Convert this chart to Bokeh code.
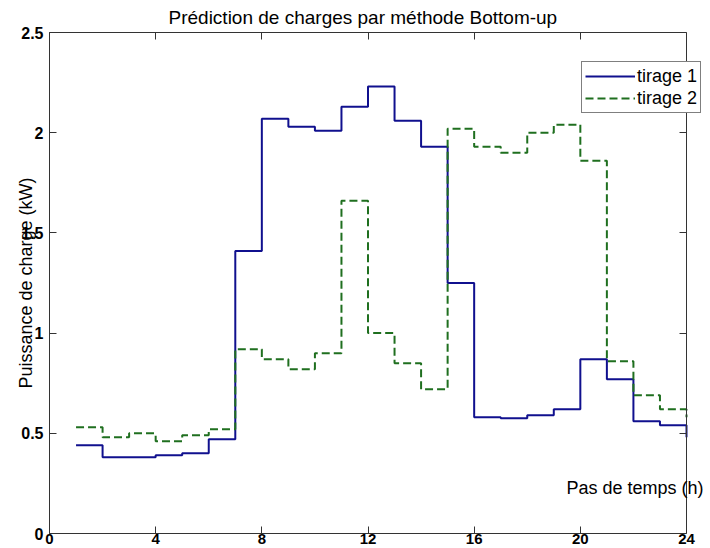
from bokeh.plotting import figure
from bokeh.models import (ColumnDataSource, Legend, LegendItem, Label, LinearAxis,
                          FixedTicker, Range1d)
from bokeh.embed import file_html
from bokeh.resources import INLINE

# ---- data ----
hours = list(range(1, 25))
tirage1 = [0.44, 0.38, 0.38, 0.39, 0.40, 0.47, 1.41, 2.07, 2.03, 2.01, 2.13, 2.23,
           2.06, 1.93, 1.25, 0.58, 0.575, 0.59, 0.62, 0.87, 0.77, 0.56, 0.54, 0.48]
tirage2 = [0.53, 0.48, 0.50, 0.46, 0.49, 0.52, 0.92, 0.87, 0.82, 0.90, 1.66, 1.00,
           0.85, 0.72, 2.02, 1.93, 1.90, 2.00, 2.04, 1.86, 0.86, 0.69, 0.62, 0.58]
x_ticks = [0, 4, 8, 12, 16, 20, 24]
y_ticks = [0, 0.5, 1, 1.5, 2, 2.5]
y_tick_labels = ["0", "0.5", "1", "1.5", "2", "2.5"]

title = "Prédiction de charges par méthode Bottom-up"
ylabel = "Puissance de charge (kW)"
xlabel = "Pas de temps (h)"
names = ["tirage 1", "tirage 2"]

FONT = "Liberation Sans"
AX = "#333333"
BLUE = "#10108e"
GREEN = "#1f6f1f"

# layout: the axes box spans x_ticks[0]..x_ticks[-1] (637 px); the drawing area is a bit
# wider so that the legend and the x label can overflow the right edge of the box.
W, H = 708, 546
LEFT, RIGHT = 49, 4
BOX_W = 637.0
FRAME_W = float(W - LEFT - RIGHT)
x_end = x_ticks[-1] * FRAME_W / BOX_W

src = ColumnDataSource(dict(h=hours, t1=tirage1, t2=tirage2))

p = figure(width=W, height=H, output_backend="svg", toolbar_location=None,
           x_range=Range1d(x_ticks[0], x_end), y_range=Range1d(y_ticks[0], y_ticks[-1]),
           min_border_left=LEFT, min_border_right=RIGHT, min_border_top=0,
           min_border_bottom=0,
           background_fill_color="white", border_fill_color="white")

p.title.text = title
p.title.align = "left"
p.title.offset = 168 - LEFT
p.title.text_font = FONT
p.title.text_font_size = "19px"
p.title.text_font_style = "normal"
p.title.text_color = "black"
p.title.standoff = 9

p.grid.visible = False
p.outline_line_color = None

for ax in (p.xaxis[0], p.yaxis[0]):
    ax.axis_line_color = AX
    ax.major_tick_line_color = AX
    ax.major_tick_in = 7
    ax.major_tick_out = 0
    ax.minor_tick_line_color = None
    ax.major_label_text_font = FONT
    ax.major_label_text_font_size = "16px"
    ax.major_label_text_font_style = "bold"
    ax.major_label_text_color = "black"

p.xaxis[0].ticker = FixedTicker(ticks=x_ticks)
p.xaxis[0].bounds = (x_ticks[0], x_ticks[-1])
p.xaxis[0].major_label_standoff = 0
p.xaxis[0].major_label_text_font_size = "15px"
p.yaxis[0].ticker = FixedTicker(ticks=y_ticks)
p.yaxis[0].major_label_overrides = {v: s for v, s in zip(y_ticks, y_tick_labels)}
p.yaxis[0].major_label_standoff = 6

# y label carried by a second, invisible left axis so it can overlap the tick labels
ylab_axis = LinearAxis(ticker=FixedTicker(ticks=[]), bounds=(0.27, y_ticks[-1]),
                       axis_line_color=None, major_tick_line_color=None,
                       minor_tick_line_color=None, major_label_text_font_size="1px",
                       major_label_text_color=None, major_label_standoff=0,
                       major_tick_in=0, major_tick_out=0,
                       axis_label=ylabel, axis_label_standoff=-17,
                       axis_label_text_font=FONT, axis_label_text_font_size="18px",
                       axis_label_text_font_style="normal", axis_label_text_color="black")
p.add_layout(ylab_axis, "left")

# top & right tick-only axes (MATLAB box)
top = LinearAxis(ticker=FixedTicker(ticks=x_ticks), bounds=(x_ticks[0], x_ticks[-1]),
                 major_label_text_font_size="1px", major_label_text_color=None,
                 major_label_standoff=0, major_tick_in=7, major_tick_out=0,
                 minor_tick_line_color=None, axis_line_color=AX, major_tick_line_color=AX)
right = LinearAxis(ticker=FixedTicker(ticks=y_ticks), fixed_location=x_ticks[-1],
                   major_label_text_font_size="1px", major_label_text_color=None,
                   major_label_standoff=0, major_tick_in=7, major_tick_out=0,
                   minor_tick_line_color=None, axis_line_color=AX, major_tick_line_color=AX)
p.add_layout(top, "above")
p.add_layout(right, "right")

r1 = p.step("h", "t1", source=src, mode="after", line_color=BLUE, line_width=2)
r2 = p.step("h", "t2", source=src, mode="after", line_color=GREEN, line_width=2,
            line_dash="8 4")

legend = Legend(items=[LegendItem(label=names[0], renderers=[r1]),
                       LegendItem(label=names[1], renderers=[r2])],
                location=(532, 420), orientation="vertical",
                border_line_color="black", border_line_width=1,
                background_fill_color="white", background_fill_alpha=1,
                padding=3, margin=0, spacing=0,
                glyph_width=50, glyph_height=22, label_height=22,
                label_standoff=2,
                label_text_font=FONT, label_text_font_size="18px",
                label_text_color="black")
p.add_layout(legend, "center")

p.add_layout(Label(x=19.48, y=0.228, text=xlabel, text_align="left",
                   text_baseline="middle", text_font=FONT,
                   text_font_size="18px", text_color="black"))

open("out.html", "w").write(file_html(p, INLINE))
